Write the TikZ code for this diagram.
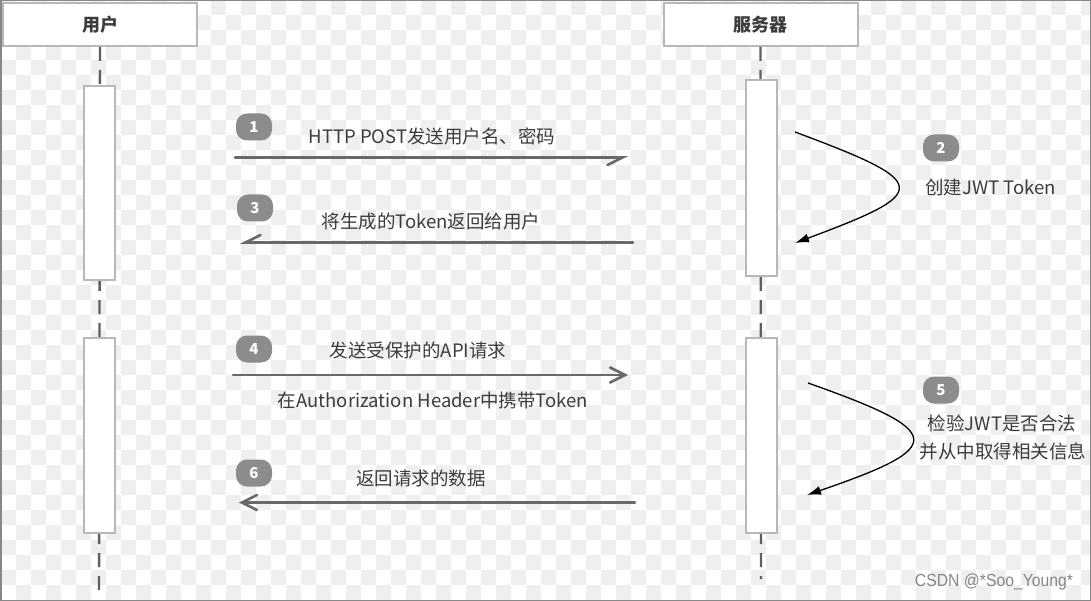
\documentclass[tikz,border=0pt]{standalone}
\usepackage{fontspec}
\setmainfont{Noto Sans CJK SC}
\newfontfamily\wmfont{Liberation Sans}
\usetikzlibrary{arrows.meta}
\definecolor{tilegray}{RGB}{239,239,239}
\definecolor{boxborder}{RGB}{180,186,188}
\definecolor{linegray}{RGB}{95,95,95}
\definecolor{arrowgray}{RGB}{105,105,105}
\definecolor{badgegray}{RGB}{140,140,140}
\definecolor{textgray}{RGB}{60,60,60}
\definecolor{framegray}{RGB}{135,135,135}
\begin{document}
\begin{tikzpicture}[x=1pt,y=-1pt,
  header/.style={draw=boxborder,line width=2pt,fill=white,minimum width=194pt,minimum height=43pt,inner sep=0pt,font=\fontsize{18}{20}\selectfont\bfseries,text=textgray},
  actbox/.style={draw=boxborder,line width=2pt,fill=white,minimum width=31pt,inner sep=0pt},
  lifeline/.style={draw=linegray,line width=2.4pt,dash pattern=on 14pt off 9pt},
  msg/.style={draw=arrowgray,line width=2.6pt,line cap=round},
  fullhead/.style={-{Straight Barb[length=15pt,width=15pt,line cap=round]}},
  halfhead/.style={-{Straight Barb[length=15pt,width=15pt,right,line cap=round]}},
  selfcall/.style={draw=black,line width=1.3pt,-{Latex[length=14pt,width=9pt]}},
  badge/.style={fill=badgegray,rounded corners=11pt,minimum width=36pt,minimum height=27pt,inner sep=0pt,text=white,font=\fontsize{15}{15}\selectfont\bfseries},
  lbl/.style={text=textgray,font=\fontsize{18.5}{22}\selectfont,inner sep=0pt}
]
\useasboundingbox (0,0) rectangle (1091,601);
\fill[white] (0,0) rectangle (1091,601);
\begin{scope}
\clip (0,0) rectangle (1091,601);
\foreach \r in {0,...,40}{
  \pgfmathtruncatemacro\s{mod(\r,2)}
  \foreach \k in {0,...,36}{
    \fill[tilegray] ({30*\k+15*\s+1},{15*\r}) rectangle +(15,15);
  }
}
\end{scope}
\draw[framegray,line width=1.5pt] (0.75,0.75) rectangle (1090.25,600.25);

% headers
\node[header] (uh) at (100,24.5) {用户};
\node[header] (sh) at (760.5,24.5) {服务器};

% lifelines
\coordinate (uend) at (99,597);
\coordinate (send) at (761,579);
\draw[lifeline,dash phase=0pt] (uh.south) -- (uend);
\draw[lifeline,dash phase=0pt] (sh.south) -- (send);

% activation boxes
\node[actbox,minimum height=194pt] (ua1) at (99.5,183) {};
\node[actbox,minimum height=195pt] (ua2) at (99.5,435.5) {};
\node[actbox,minimum height=196pt] (sa1) at (761,178) {};
\node[actbox,minimum height=195pt] (sa2) at (761,435.5) {};

% message 1
\coordinate (m1a) at (235,157.5);
\coordinate (m1b) at (628,157.5);
\draw[msg,halfhead] (m1a) -- (m1b);
\node[badge] (b1) at (254,127) {1};
\node[lbl] (t1) at (432,136) {HTTP POST发送用户名、密码};

% message 2 (self)
\coordinate (s2a) at (795,132);
\coordinate (s2b) at (795,243);
\draw[selfcall] (s2a) .. controls (932,183) and (932,192) .. (s2b);
\node[badge] (b2) at (941,148) {2};
\node[lbl,anchor=west] (t2) at (925,187) {创建JWT Token};

% message 3
\coordinate (m3a) at (633,242.5);
\coordinate (m3b) at (240,242.5);
\draw[msg,halfhead] (m3a) -- (m3b);
\node[badge] (b3) at (255,208) {3};
\node[lbl] (t3) at (431,221) {将生成的Token返回给用户};

% message 4
\coordinate (m4a) at (233,375);
\coordinate (m4b) at (628,375);
\draw[msg,fullhead] (m4a) -- (m4b);
\node[badge] (b4) at (254,349) {4};
\node[lbl] (t4a) at (418,350) {发送受保护的API请求};
\node[lbl] (t4b) at (433,400) {在Authorization Header中携带Token};

% message 5 (self)
\coordinate (s5a) at (808,383);
\coordinate (s5b) at (807,495);
\draw[selfcall] (s5a) .. controls (947,432) and (947,447) .. (s5b);
\node[badge] (b5) at (941,390) {5};
\node[lbl] (t5a) at (1002,423) {检验JWT是否合法};
\node[lbl] (t5b) at (1003,451) {并从中取得相关信息};

% message 6
\coordinate (m6a) at (635,502.5);
\coordinate (m6b) at (239,502.5);
\draw[msg,fullhead] (m6a) -- (m6b);
\node[badge] (b6) at (254,473) {6};
\node[lbl] (t6) at (421,478) {返回请求的数据};

% watermark
\node[text=framegray,font=\wmfont\fontsize{17.5}{17.5}\selectfont,xscale=0.9,inner sep=0pt] (wm) at (994,582) {CSDN @*Soo\_Young*};
\end{tikzpicture}
\end{document}
